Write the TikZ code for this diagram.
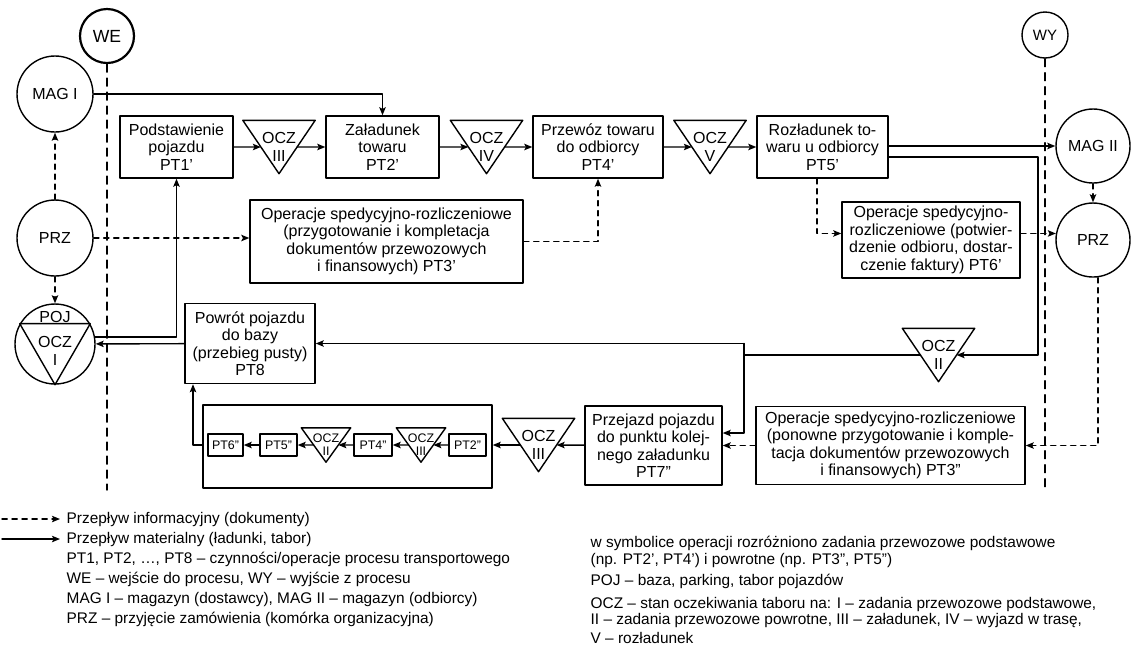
\documentclass[tikz,border=0pt]{standalone}
\usepackage{fontspec}
\setmainfont{Liberation Sans}
\usetikzlibrary{arrows.meta,calc}
\newcommand{\opfont}{\fontsize{8}{8.75}\selectfont}
\newcommand{\legfont}{\fontsize{7.7}{9}\selectfont}
\newcommand{\chainfont}{\fontsize{6.2}{6.6}\selectfont}
\newcommand{\wefont}{\fontsize{8.8}{9}\selectfont}
\newcommand{\wyfont}{\fontsize{7.5}{8}\selectfont}
\begin{document}
\begin{tikzpicture}[line join=round, line cap=round, >={Stealth[length=4pt,width=3.2pt,inset=0.8pt]}, line width=0.7pt, x=0.5pt, y=-0.5pt]
    \tikzset{opbox/.style={draw, align=center, inner sep=0pt, font=\opfont}}
    \tikzset{station/.style={draw, circle, inner sep=0pt, font=\opfont}}
    \tikzset{ocz/.style={inner sep=0pt, align=center, font=\opfont, minimum width=35.5pt, minimum height=26pt}}
    \tikzset{oczsmall/.style={ocz, font=\chainfont, minimum width=24pt, minimum height=16.5pt}}
    \tikzset{chainbox/.style={opbox, font=\chainfont, minimum height=11pt}}
    \tikzset{infoflow/.style={->, dash pattern=on 2.6pt off 2.4pt}}
    \tikzset{matflow/.style={->}}
    \tikzset{procline/.style={dash pattern=on 4pt off 3pt}}
    \tikzset{legtext/.style={anchor=west, inner sep=0pt, font=\legfont}}
    \useasboundingbox (0,0) rectangle (1133,645);
    % wejscie / wyjscie
    \node[station, minimum size=27pt, font=\wefont, line width=1.1pt] (we) at (107,36) {WE};
    \node[station, minimum size=23pt, font=\wyfont] (wy) at (1045,35) {WY};
    \coordinate (bot) at (0,490);
    \draw[procline] (we) -- (we |- bot);
    \draw[procline] (wy) -- (wy |- bot);
    % stacje
    \node[station, minimum size=38pt] (mag1) at (55,94) {MAG I};
    \node[station, minimum size=38pt] (prz1) at (55,238) {PRZ};
    \node[station, minimum size=40pt] (poj) at (55,344) {};
    \draw (poj.150) -- (poj.30) -- (poj.270) -- cycle;
    \node[font=\opfont, inner sep=0pt] (pojtxt) at (55,317) {POJ};
    \node[align=center, font=\opfont, inner sep=0pt] (ocz1) at (55,351) {OCZ\\I};
    \node[station, minimum size=37pt] (mag2) at (1093,146) {MAG II};
    \node[station, minimum size=37pt] (prz2) at (1093,240) {PRZ};
    % zadania przewozowe podstawowe
    \node[opbox, minimum width=56.5pt, minimum height=31pt] (pt1) at (176.5,147) {Podstawienie\\pojazdu\\PT1'};
    \node[ocz] (o3a) at (279,147) {OCZ\\III};
    \node[opbox, minimum width=56.5pt, minimum height=31pt] (pt2) at (382.5,147) {Załadunek\\towaru\\PT2'};
    \node[ocz] (o4) at (486.5,147) {OCZ\\IV};
    \node[opbox, minimum width=65pt, minimum height=31pt] (pt4) at (598,147) {Przewóz towaru\\do odbiorcy\\PT4'};
    \node[ocz] (o5) at (710,147) {OCZ\\V};
    \node[opbox, minimum width=65.5pt, minimum height=31pt] (pt5) at (822.5,147) {Rozładunek to-\\waru u odbiorcy\\PT5'};
    \node[opbox, minimum width=136.5pt, minimum height=41.5pt] (pt3a) at (386.5,241.5) {Operacje spedycyjno-rozliczeniowe\\(przygotowanie i kompletacja\\dokumentów przewozowych\\i finansowych) PT3'};
    \node[opbox, minimum width=89pt, minimum height=38pt] (pt6) at (931,240) {Operacje spedycyjno-\\rozliczeniowe (potwier-\\dzenie odbioru, dostar-\\czenie faktury) PT6'};
    % zadania powrotne
    \node[opbox, minimum width=65pt, minimum height=40pt] (pt8) at (250,343.5) {Powrót pojazdu\\do bazy\\(przebieg pusty)\\PT8};
    \node[ocz] (o2) at (938.5,355) {OCZ\\II};
    \node[opbox, minimum width=68.5pt, minimum height=39.5pt] (pt7) at (653.5,445.5) {Przejazd pojazdu\\do punktu kolej-\\nego załadunku\\PT7"};
    \node[opbox, minimum width=134.5pt, minimum height=39pt] (pt3b) at (890.5,445.5) {Operacje spedycyjno-rozliczeniowe\\(ponowne przygotowanie i komple-\\tacja dokumentów przewozowych\\i finansowych) PT3"};
    \node[ocz] (o3b) at (538.5,445) {OCZ\\III};
    \node[opbox, minimum width=144.5pt, minimum height=41.5pt] (chain) at (347.5,446.5) {};
    \node[chainbox, minimum width=18.5pt] (pt2b) at (467.5,445) {PT2"};
    \node[oczsmall] (o3s) at (421,445) {OCZ\\III};
    \node[chainbox, minimum width=19pt] (pt4b) at (373,445) {PT4"};
    \node[oczsmall] (o2s) at (326,445) {OCZ\\II};
    \node[chainbox, minimum width=18.5pt] (pt5b) at (278.5,445) {PT5"};
    \node[chainbox, minimum width=17.5pt] (pt6b) at (225.5,445) {PT6"};
    \foreach \tri in {o3a,o4,o5,o2,o3b,o3s,o2s}{
        \draw (\tri.north west) -- (\tri.north east) -- (\tri.south) -- cycle;
        \coordinate (\tri-l) at ($(\tri.north west)!.5!(\tri.south)$);
        \coordinate (\tri-r) at ($(\tri.north east)!.5!(\tri.south)$);
    }
    % przeplyw informacyjny
    \draw[infoflow] (prz1) -- (mag1);
    \draw[infoflow] (prz1) -- (poj);
    \draw[infoflow] (prz1) -- (prz1 -| pt3a.west);
    \draw[infoflow] (pt3a) -| (pt4);
    \coordinate (d1) at (817,200);
    \draw[infoflow] (pt5.south -| d1) |- (pt6.west |- prz2.170);
    \draw[infoflow] (pt6.east |- prz2.170) -- (prz2.170);
    \draw[infoflow] (mag2) -- (prz2);
    \draw[infoflow] ([xshift=2.5pt]prz2.south) |- (pt3b);
    \draw[infoflow] (pt3b) -- (pt7);
    % przeplyw materialny
    \draw[matflow] (mag1) -| (pt2);
    \draw[matflow] (poj.10) -| (pt1);
    \draw[matflow] (pt1) -- (o3a-l);
    \draw[matflow] (o3a-r) -- (pt2);
    \draw[matflow] (pt2) -- (o4-l);
    \draw[matflow] (o4-r) -- (pt4);
    \draw[matflow] (pt4) -- (o5-l);
    \draw[matflow] (o5-r) -- (pt5);
    \draw[matflow] (pt5.east |- mag2) -- (mag2);
    \coordinate (r1) at (1038,157);
    \draw[matflow] (pt5.east |- r1) -- (r1) |- (o2-r);
    \coordinate (j1) at (744,343.5);
    \coordinate (j2) at (744,433);
    \draw (o2-l) -- (o2-l -| j1);
    \draw[matflow] (j1) -- (pt8);
    \draw[matflow] (j1) -- (j2) -- (pt7.east |- j2);
    \draw[matflow] (pt7) -- (o3b-r);
    \draw[matflow] (o3b-l) -- (o3b-l -| chain.east);
    \draw[matflow] (pt2b) -- (o3s-r);
    \draw[matflow] (o3s-l) -- (pt4b);
    \draw[matflow] (pt4b) -- (o2s-r);
    \draw[matflow] (o2s-l) -- (pt5b);
    \draw[matflow] (pt5b) -- (pt6b);
    \coordinate (c8) at (193,445);
    \draw[matflow] (chain.west |- c8) -- (c8) -- (c8 |- pt8.south);
    \draw[matflow] (pt8) -- (poj);
    % legenda
    \coordinate (la1) at (2,519);
    \coordinate (la2) at (60,519);
    \coordinate (lb1) at (2,539);
    \coordinate (lb2) at (60,539);
    \draw[infoflow] (la1) -- (la2);
    \draw[matflow] (lb1) -- (lb2);
    \node[legtext] (leg1) at (66,519) {Przepływ informacyjny (dokumenty)};
    \node[legtext] (leg2) at (66,539) {Przepływ materialny (ładunki, tabor)};
    \node[legtext] (leg3) at (66,559) {PT1, PT2, …, PT8 – czynności/operacje procesu transportowego};
    \node[legtext] (leg4) at (66,579) {WE – wejście do procesu, WY – wyjście z procesu};
    \node[legtext] (leg5) at (66,599) {MAG I – magazyn (dostawcy), MAG II – magazyn (odbiorcy)};
    \node[legtext] (leg6) at (66,619) {PRZ – przyjęcie zamówienia (komórka organizacyjna)};
    \node[legtext] (leg7) at (590,543) {w symbolice operacji rozróżniono zadania przewozowe podstawowe};
    \node[legtext] (leg8) at (590,560) {(np. PT2', PT4') i powrotne (np. PT3", PT5")};
    \node[legtext] (leg9) at (590,581) {POJ – baza, parking, tabor pojazdów};
    \node[legtext] (leg10) at (590,604) {OCZ – stan oczekiwania taboru na: I – zadania przewozowe podstawowe,};
    \node[legtext] (leg11) at (590,621) {II – zadania przewozowe powrotne, III – załadunek, IV – wyjazd w trasę,};
    \node[legtext] (leg12) at (590,638) {V – rozładunek};
\end{tikzpicture}
\end{document}
